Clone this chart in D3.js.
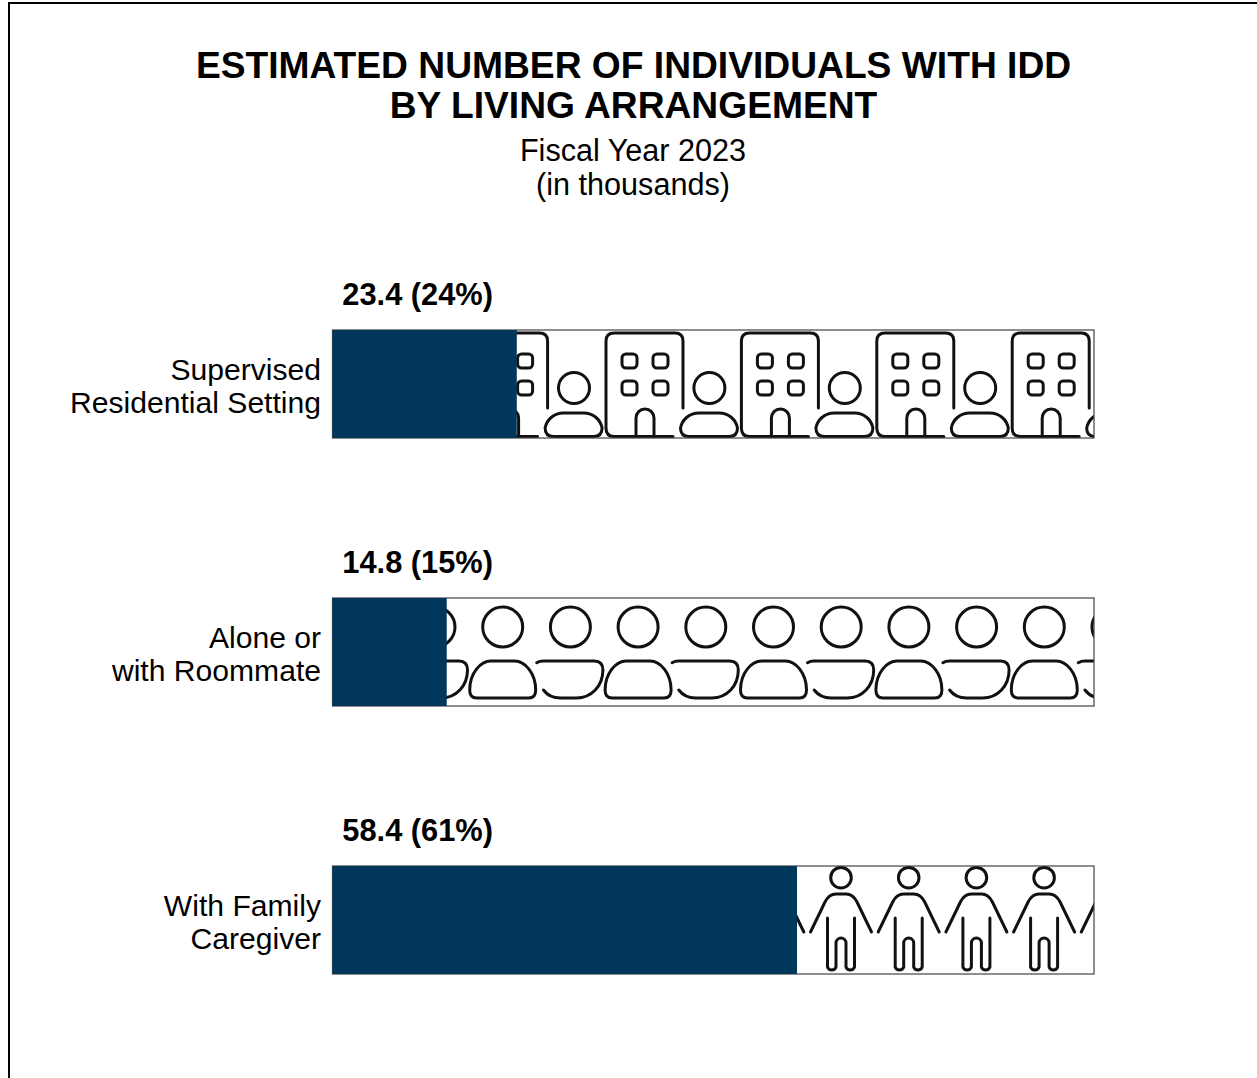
<!DOCTYPE html>
<html>
<head>
<meta charset="utf-8">
<script src="https://cdn.jsdelivr.net/npm/d3@7"></script>
<style>
  html, body { margin: 0; background: #fff; overflow: hidden; }
  svg { display: block; }
  text { font-family: "Liberation Sans", Arial, sans-serif; fill: #000; }
</style>
</head>
<body>
<div id="chart"></div>
<script>
// Data
var categories = ["residential", "alone", "family"];
var category_labels = [
    ["Supervised", "Residential Setting"],
    ["Alone or", "with Roommate"],
    ["With Family", "Caregiver"]
];
var values = [23.4, 14.8, 58.4];
var percents = [24, 15, 61];
// share of the bar that is filled, as measured on the picture
var bar_shares = [24.2, 15.0, 61.0];
var title_lines = ["ESTIMATED NUMBER OF INDIVIDUALS WITH IDD", "BY LIVING ARRANGEMENT"];
var subtitle_lines = ["Fiscal Year 2023", "(in thousands)"];

var chart_width = 1257;
var chart_height = 1078;
var navy = "#02375c";

// Scales
var x_scale = d3.scaleLinear()
    .domain([0, 100])
    .range([332.5, 1094]);

var y_scale = d3.scaleBand()
    .domain(categories)
    .range([330, 974])
    .paddingInner(160 / 268);

// Icon drawings, local coordinates, y from the top of the bar
function draw_building(g) {
    g.append("path").attr("d", "M77 78V11Q77 3 69 3H8Q0 3 0 11V98Q0 106.5 8 106.5H67");
    g.append("path").attr("d", "M30 106V88A9 9 0 0 1 48 88V106");
    [[16, 24], [47, 24], [16, 51], [47, 51]].forEach(function(w) {
        g.append("rect")
            .attr("x", w[0]).attr("y", w[1])
            .attr("width", 15).attr("height", 14)
            .attr("rx", 4);
    });
    g.append("circle").attr("cx", 103.4).attr("cy", 58).attr("r", 15.5);
    g.append("path").attr("d", "M83 106.5Q74.5 106.5 74.5 98C76 90 83 83 93 83H113C123 83 130 90 131.5 98Q131.5 106.5 123 106.5Z");
}

function draw_pair(g) {
    g.append("circle").attr("cy", 29).attr("r", 20);
    g.append("path").attr("d", "M-26 100Q-33 100 -33 92C-33 75 -22 63 -12 63H12C22 63 33 75 33 92Q33 100 26 100Z");
    var g2 = g.append("g").attr("transform", "translate(67.7,0)");
    g2.append("circle").attr("cy", 29).attr("r", 20);
    g2.append("path").attr("d", "M-33.7 64.7Q-31 63 -27 63H24Q32.5 63 32.5 72C32.5 88 21 100 6 100H-10Q-21 100 -27 92");
}

function draw_figure(g) {
    g.append("circle").attr("cy", 11.7).attr("r", 10.3);
    g.append("path").attr("d", "M-30.5 66L-16 36Q-12 28 -5 28H5Q12 28 16 36L30.5 66");
    g.append("path").attr("d", "M-13.5 52V101A4.5 4.5 0 0 0 -5 101V77A5 5 0 0 1 5 77V101A4.5 4.5 0 0 0 13.5 101V52");
}

var icon_drawers = [draw_building, draw_pair, draw_figure];
var icon_starts = [335.2, 367.3, 773.3];
var icon_periods = [135.4, 135.4, 67.7];
var icon_counts = [6, 6, 6];

// Create SVG Element
var svg = d3.select("#chart")
    .append("svg")
    .attr("width", chart_width)
    .attr("height", chart_height);

// Page frame, left and top only
svg.append("path")
    .attr("d", "M9 " + chart_height + "V3H" + chart_width)
    .attr("fill", "none")
    .attr("stroke", "#000")
    .attr("stroke-width", 2);

// Titles
svg.selectAll(".title")
    .data(title_lines)
    .enter()
    .append("text")
    .attr("class", "title")
    .attr("x", 633.5)
    .attr("y", function(d, i) { return 78 + i * 40; })
    .attr("text-anchor", "middle")
    .style("font-size", "37.2px")
    .style("font-weight", "bold")
    .text(function(d) { return d; });

svg.selectAll(".subtitle")
    .data(subtitle_lines)
    .enter()
    .append("text")
    .attr("class", "subtitle")
    .attr("x", 633)
    .attr("y", function(d, i) { return 161 + i * 33.5; })
    .attr("text-anchor", "middle")
    .style("font-size", "30.6px")
    .text(function(d) { return d; });

// Clip the icons to the bar
var defs = svg.append("defs");
categories.forEach(function(c) {
    defs.append("clipPath")
        .attr("id", "clip-" + c)
        .append("rect")
        .attr("x", x_scale(0))
        .attr("y", y_scale(c))
        .attr("width", x_scale(100) - x_scale(0))
        .attr("height", y_scale.bandwidth());
});

// Bars
var groups = svg.selectAll(".row")
    .data(categories)
    .enter()
    .append("g")
    .attr("class", "row");

groups.each(function(c, i) {
    var row = d3.select(this);

    var icons = row.append("g")
        .attr("clip-path", "url(#clip-" + c + ")")
        .attr("fill", "none")
        .attr("stroke", "#111")
        .attr("stroke-width", 3)
        .attr("stroke-linecap", "round");

    icons.selectAll("g")
        .data(d3.range(icon_counts[i]))
        .enter()
        .append("g")
        .attr("transform", function(k) {
            return "translate(" + (icon_starts[i] + k * icon_periods[i]) + "," + y_scale(c) + ")";
        })
        .each(function() { icon_drawers[i](d3.select(this)); });

    row.append("rect")
        .attr("x", x_scale(0))
        .attr("y", y_scale(c))
        .attr("width", x_scale(100) - x_scale(0))
        .attr("height", y_scale.bandwidth())
        .attr("fill", "none")
        .attr("stroke", "#444")
        .attr("stroke-width", 1.2);

    row.append("rect")
        .attr("x", x_scale(0))
        .attr("y", y_scale(c))
        .attr("width", x_scale(bar_shares[i]) - x_scale(0))
        .attr("height", y_scale.bandwidth())
        .attr("fill", navy);

    // Value label
    row.append("text")
        .attr("x", 493)
        .attr("y", y_scale(c) - 25)
        .attr("text-anchor", "end")
        .style("font-size", "30.8px")
        .style("font-weight", "bold")
        .text(values[i].toFixed(1) + " (" + percents[i] + "%)");

    // Category label
    row.selectAll(".cat")
        .data(category_labels[i])
        .enter()
        .append("text")
        .attr("class", "cat")
        .attr("x", 321)
        .attr("y", function(d, k) { return y_scale(c) + 50 + k * 33; })
        .attr("text-anchor", "end")
        .style("font-size", "30.1px")
        .text(function(d) { return d; });
});
</script>
</body>
</html>
